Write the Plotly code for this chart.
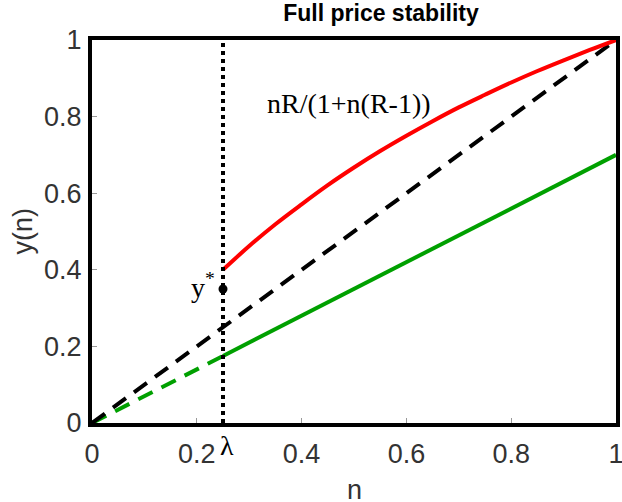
import plotly.graph_objects as go

# Data
n_red = [0.25, 0.30, 0.35, 0.40, 0.45, 0.50, 0.55, 0.60, 0.65, 0.70, 0.75, 0.80, 0.85, 0.90, 0.95, 1.00]
y_red = [0.40, 0.462, 0.519, 0.571, 0.621, 0.667, 0.710, 0.750, 0.788, 0.824, 0.857, 0.889, 0.919, 0.947, 0.974, 1.00]
n_diag = [0.0, 1.0]
y_diag = [0.0, 1.0]
n_green_dash = [0.0, 0.25]
y_green_dash = [0.0, 0.175]
n_green = [0.25, 1.0]
y_green = [0.175, 0.70]
lam = 0.25
n_lam = [lam, lam]
y_lam = [0.0, 1.0]
ystar_n = [0.25]
ystar_y = [0.35]
tick_vals = [0, 0.2, 0.4, 0.6, 0.8, 1]
tick_text = ["0", "0.2", "0.4", "0.6", "0.8", "1"]

fig = go.Figure()
fig.add_trace(go.Scatter(x=n_green_dash, y=y_green_dash, mode="lines",
                         line=dict(color="#00A000", width=4, dash="16px,10px")))
fig.add_trace(go.Scatter(x=n_diag, y=y_diag, mode="lines",
                         line=dict(color="black", width=4, dash="16px,10px")))
fig.add_trace(go.Scatter(x=n_green, y=y_green, mode="lines",
                         line=dict(color="#00A000", width=4)))
fig.add_trace(go.Scatter(x=n_red, y=y_red, mode="lines", line_shape="spline",
                         line=dict(color="#FF0000", width=4)))
fig.add_trace(go.Scatter(x=n_lam, y=y_lam, mode="lines",
                         line=dict(color="black", width=4, dash="dot")))
fig.add_trace(go.Scatter(x=ystar_n, y=ystar_y, mode="markers",
                         marker=dict(color="black", size=9)))

serif = "Liberation Serif"
fig.add_annotation(x=0.331, y=0.833, xref="x", yref="y", text="nR/(1+n(R-1))",
                   showarrow=False, xanchor="left", yanchor="middle",
                   font=dict(family=serif, size=28, color="black"))
fig.add_annotation(x=0.238, y=0.36, xref="x", yref="y", text="y<sup>*</sup>",
                   showarrow=False, xanchor="right", yanchor="middle",
                   font=dict(family=serif, size=28, color="black"))
fig.add_annotation(x=0.257, y=0, xref="x", yref="paper", text="λ",
                   showarrow=False, xanchor="center", yanchor="top", yshift=-5,
                   font=dict(family=serif, size=28, color="black"))

tickfont = dict(family="Liberation Sans", size=27, color="#333333")
# axis titles
fig.add_annotation(x=0.5, y=0, xref="paper", yref="paper", text="n",
                   showarrow=False, xanchor="center", yanchor="top", yshift=-50,
                   font=tickfont)
fig.add_annotation(x=0, y=0.5, xref="paper", yref="paper", text="y(n)",
                   showarrow=False, xanchor="center", yanchor="middle", xshift=-70,
                   textangle=-90, font=tickfont)

axis_common = dict(range=[0, 1], showgrid=False, zeroline=False, automargin=False,
                   showline=True, linecolor="black", linewidth=4, mirror=True,
                   ticks="inside", ticklen=5, tickwidth=1, tickcolor="#999999",
                   tickvals=tick_vals, ticktext=tick_text, tickfont=tickfont,
                   ticklabeloverflow="allow")

fig.update_layout(
    width=622, height=502,
    margin=dict(l=92, r=6, t=40, b=79),
    paper_bgcolor="white", plot_bgcolor="white",
    showlegend=False,
    title=dict(text="<b>Full price stability</b>", x=381/622, xanchor="center",
               y=0.99, yanchor="top", yref="container",
               font=dict(family="Liberation Sans", size=23, color="black")),
    xaxis=dict(**axis_common, ticklabelstandoff=4),
    yaxis=dict(**axis_common, ticklabelstandoff=1),
)

fig.write_html("out.html")
